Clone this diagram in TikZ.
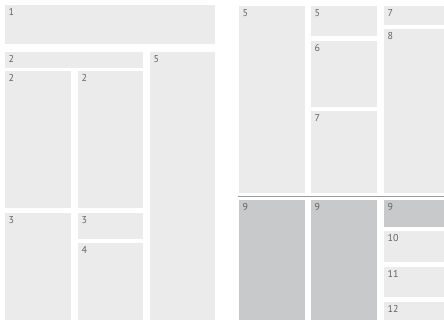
\documentclass[tikz,border=0pt]{standalone}
\usepackage{fontspec}
\setmainfont{PT Sans}
\definecolor{lightbox}{HTML}{EBEBEB}
\definecolor{darkbox}{HTML}{C8C9CB}
\definecolor{labelgray}{HTML}{636363}
\definecolor{sepgray}{HTML}{9A9A9A}
\newcommand{\panel}[7][lightbox]{%
  \pgfmathsetmacro{\pw}{#5-#3}%
  \pgfmathsetmacro{\ph}{#6-#4}%
  \node[boxstyle, fill=#1, minimum width=\pw pt, minimum height=\ph pt,
    label={[labelstyle]north west:#7}] (#2) at (#3,#4) {};%
}
\begin{document}
\begin{tikzpicture}[x=1pt,y=-1pt,
  boxstyle/.style={draw=none, anchor=north west, inner sep=0pt, outer sep=0pt},
  labelstyle/.style={anchor=north west, inner sep=0pt, xshift=3.5pt, yshift=-3.5pt,
    text=labelgray, font=\fontsize{10}{10}\selectfont}]
\useasboundingbox (0,0) rectangle (444,322);
\fill[white] (0,0) rectangle (444,322);
% left page
\panel{b1}{5}{5}{215}{44}{1}
\panel{b2w}{5}{52}{143}{68}{2}
\panel{b5l}{150}{52}{215}{320}{5}
\panel{b2a}{5}{71}{71}{208}{2}
\panel{b2b}{78}{71}{143}{208}{2}
\panel{b3a}{5}{213}{71}{320}{3}
\panel{b3b}{78}{213}{143}{239}{3}
\panel{b4}{78}{243}{143}{320}{4}
% right page
\panel{r5a}{239}{6}{305}{193}{5}
\panel{r5b}{311}{6}{377}{36}{5}
\panel{r6}{311}{41}{377}{107}{6}
\panel{r7a}{311}{111}{377}{193}{7}
\panel{r7b}{384}{6}{444}{25}{7}
\panel{r8}{384}{29}{444}{193}{8}
\coordinate (sepL) at (238,196.5);
\coordinate (sepR) at (444,196.5);
\draw[sepgray, line width=1pt] (sepL) -- (sepR);
\panel[darkbox]{r9a}{239}{200}{305}{320}{9}
\panel[darkbox]{r9b}{311}{200}{377}{320}{9}
\panel[darkbox]{r9c}{384}{200}{444}{227}{9}
\panel{r10}{384}{231}{444}{262}{10}
\panel{r11}{384}{267}{444}{297}{11}
\panel{r12}{384}{302}{444}{320}{12}
\end{tikzpicture}
\end{document}
